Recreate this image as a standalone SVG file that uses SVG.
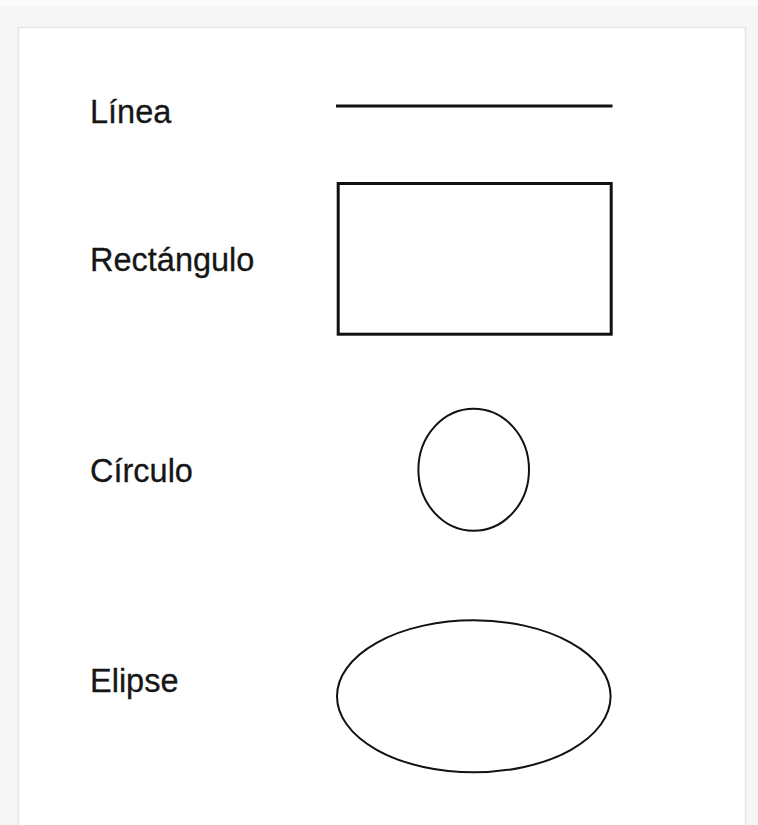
<svg xmlns="http://www.w3.org/2000/svg" width="758" height="825" viewBox="0 0 758 825">
  <style>
    .lbl { font-family: "Liberation Sans", Arial, sans-serif; font-size: 32.5px; fill: #161616; stroke: #161616; stroke-width: 0.3px; }
    .shape { fill: none; stroke: #111; }
  </style>
  <rect x="0" y="0" width="758" height="825" fill="#f6f6f6"/>
  <rect x="0" y="0" width="758" height="6" fill="#fcfcfa"/>
  <rect x="18.5" y="27.5" width="727" height="800" fill="#ffffff" stroke="#e6e6e6" stroke-width="1.5"/>
  <g id="linea">
    <text class="lbl" x="90" y="123">Línea</text>
    <line class="shape" x1="336" y1="106" x2="612.5" y2="106" stroke-width="3"/>
  </g>
  <g id="rectangulo">
    <text class="lbl" x="90" y="271">Rectángulo</text>
    <rect class="shape" x="338.2" y="183.5" width="273" height="150.7" stroke-width="3"/>
  </g>
  <g id="circulo">
    <text class="lbl" x="90" y="482">Círculo</text>
    <ellipse class="shape" cx="473.7" cy="469.7" rx="55.3" ry="61" stroke-width="2"/>
  </g>
  <g id="elipse">
    <text class="lbl" x="90" y="692">Elipse</text>
    <ellipse class="shape" cx="473.8" cy="696.3" rx="136.8" ry="76" stroke-width="2"/>
  </g>
  <g id="connectors"/>
</svg>
